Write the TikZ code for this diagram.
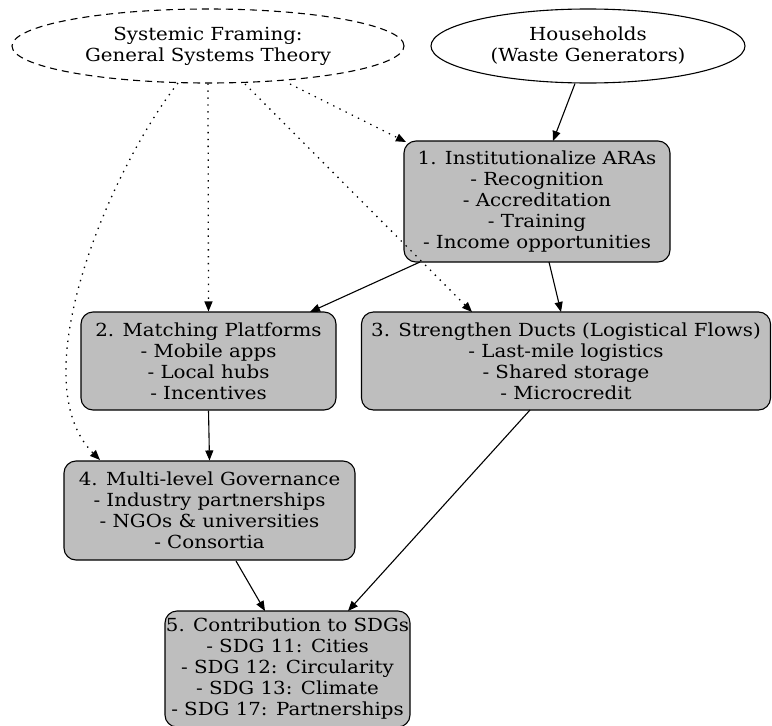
\documentclass[tikz,border=0pt]{standalone}
\usepackage{fontspec}
\setmainfont[FakeStretch=1.1]{DejaVu Serif}
\usetikzlibrary{arrows.meta,shapes.geometric}
\definecolor{boxgray}{RGB}{190,190,190}
\begin{document}
\begin{tikzpicture}[x=1pt,y=-1pt,
  every node/.style={font=\fontsize{18}{21}\selectfont, align=center, inner sep=0pt},
  stepbox/.style={draw, line width=1.1pt, fill=boxgray, rounded corners=12pt, minimum height=#1},
  oval/.style={ellipse, draw, line width=1.1pt},
  arr/.style={-{Triangle[length=10pt,width=8pt]}, line width=1.1pt},
  dotarr/.style={arr, dash pattern=on 1.4pt off 5.5pt, line width=1.3pt}]
\useasboundingbox (0,0) rectangle (772,726);
\node[oval, dash pattern=on 7pt off 5pt, minimum width=392pt, minimum height=74pt] (sys) at (208,46) {Systemic Framing:\\General Systems Theory};
\node[oval, minimum width=314pt, minimum height=74pt] (hh) at (588,46) {Households\\(Waste Generators)};
\node[stepbox=121pt, minimum width=266pt] (n1) at (537,201.5) {1. Institutionalize ARAs\\- Recognition\\- Accreditation\\- Training\\- Income opportunities};
\node[stepbox=98pt, minimum width=255pt] (n2) at (208.5,361) {2. Matching Platforms\\- Mobile apps\\- Local hubs\\- Incentives};
\node[stepbox=98pt, minimum width=409pt] (n3) at (566,361) {3. Strengthen Ducts (Logistical Flows)\\- Last-mile logistics\\- Shared storage\\- Microcredit};
\node[stepbox=99pt, minimum width=291pt] (n4) at (209.5,510.5) {4. Multi-level Governance\\- Industry partnerships\\- NGOs \& universities\\- Consortia};
\node[stepbox=116pt, minimum width=245pt] (n5) at (287.5,669) {5. Contribution to SDGs\\- SDG 11: Cities\\- SDG 12: Circularity\\- SDG 13: Climate\\- SDG 17: Partnerships};
\draw[arr] (hh.south) ++(-13,0) coordinate (hs) -- (553,141);
\draw[dotarr] (290,84) -- (406,142);
\draw[dotarr] (sys.south) -- (n2.north);
\draw[dotarr] (245,84) -- (472,312);
\draw[dotarr] (178,83) .. controls (110,170) and (20,380) .. (100,460);
\draw[arr] (420,262) -- (310,312);
\draw[arr] (549,262) -- (561,312);
\draw[arr] (n2.south) -- (n4.north);
\draw[arr] (530,410) -- (348,611);
\draw[arr] (236,561) -- (265,611);
\end{tikzpicture}
\end{document}
